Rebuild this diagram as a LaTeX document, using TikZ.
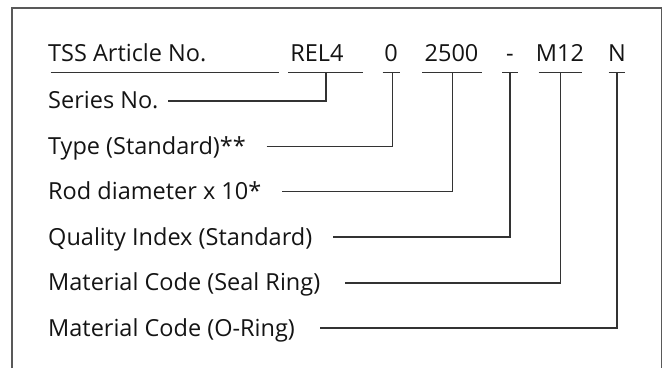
\documentclass[tikz,border=0pt]{standalone}
\usepackage{fontspec}
\setmainfont{Open Sans}
\usetikzlibrary{calc}
\begin{document}
\begin{tikzpicture}[x=1pt,y=-1pt,
  lbl/.style={anchor=base west, inner sep=0pt, font=\fontsize{23.5}{28}\selectfont, text=black!92},
  code/.style={anchor=base, inner sep=0pt, font=\fontsize{23.5}{28}\selectfont, text=black!92},
  ln/.style={line width=1.3pt, draw=black!80},
  frame/.style={line width=1.3pt, draw=black!65}]
\useasboundingbox (0,0) rectangle (664,368);
% frame (open at bottom)
\coordinate (fbl) at (12,368);
\coordinate (ftl) at (12,8);
\coordinate (ftr) at (661.5,8);
\coordinate (fbr) at (661.5,368);
\draw[frame] (fbl) -- (ftl) -- (ftr) -- (fbr);

% top row
\node[lbl]  (tss) at (48,61.7) {TSS Article No.};
\node[code] (rel) at (317,61.7) {REL4};
\node[code] (ty)  at (391,61.7) {0};
\node[code] (rod) at (451.5,61.7) {2500};
\node[code] (qi)  at (510,61.7) {-};
\node[code] (sr)  at (560,61.7) {M12};
\node[code] (or)  at (617,61.7) {N};

% underlines
\coordinate (tssa) at (50.7,72.7); \coordinate (tssb) at (279,72.7);
\coordinate (rela) at (288,72.7);  \coordinate (relb) at (363,72.7);
\coordinate (tya)  at (382.7,72.7);\coordinate (tyb)  at (400,72.7);
\coordinate (roda) at (422,72.7);  \coordinate (rodb) at (482,72.7);
\coordinate (qia)  at (502,72.7);  \coordinate (qib)  at (518,72.7);
\coordinate (sra)  at (538.7,72.7);\coordinate (srb)  at (582,72.7);
\coordinate (ora)  at (608.7,72.7);\coordinate (orb)  at (624.7,72.7);
\foreach \n in {tss,rel,ty,rod,qi,sr,or}{\draw[ln] (\n a) -- (\n b);}

% tap points on underlines
\coordinate (relt) at (326,72.7);
\coordinate (tyt)  at (392.3,72.7);
\coordinate (rodt) at (452.7,72.7);
\coordinate (qit)  at (510,72.7);
\coordinate (srt)  at (560.7,72.7);
\coordinate (ort)  at (617,72.7);

% labels
\node[lbl] (l1) at (48,108.3) {Series No.};
\node[lbl] (l2) at (48,154)   {Type (Standard)**};
\node[lbl] (l3) at (48,199.5) {Rod diameter x 10*};
\node[lbl] (l4) at (48,245)   {Quality Index (Standard)};
\node[lbl] (l5) at (48,290.5) {Material Code (Seal Ring)};
\node[lbl] (l6) at (48,336)   {Material Code (O-Ring)};

% line starts
\coordinate (s1) at (168,101);
\coordinate (s2) at (266.7,146.7);
\coordinate (s3) at (282,191.5);
\coordinate (s4) at (333,237);
\coordinate (s5) at (345,283);
\coordinate (s6) at (320,328);

\draw[ln] (s1) -| (relt);
\draw[ln] (s2) -| (tyt);
\draw[ln] (s3) -| (rodt);
\draw[ln] (s4) -| (qit);
\draw[ln] (s5) -| (srt);
\draw[ln] (s6) -| (ort);
\end{tikzpicture}
\end{document}
